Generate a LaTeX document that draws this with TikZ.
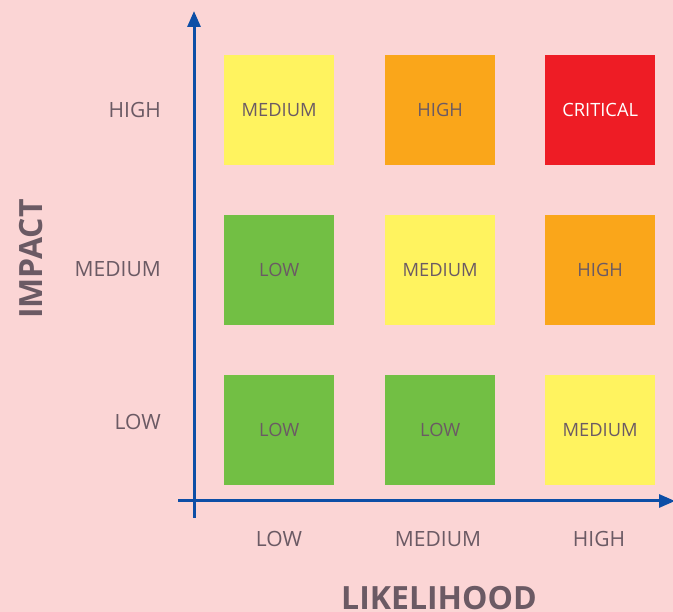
\documentclass[tikz,border=0pt]{standalone}
\usepackage{fontspec}
\setmainfont{Open Sans}
\usetikzlibrary{arrows.meta}
\definecolor{bg}{HTML}{FBD5D5}
\definecolor{txt}{HTML}{6B5A64}
\definecolor{axis}{HTML}{0D4EA6}
\definecolor{cyel}{HTML}{FFF35F}
\definecolor{cora}{HTML}{FAA61A}
\definecolor{cred}{HTML}{EE1C25}
\definecolor{cgrn}{HTML}{72BF44}
\begin{document}
\begin{tikzpicture}[x=1pt,y=-1pt,
  cell/.style={minimum width=110pt,minimum height=110pt,inner sep=0pt,anchor=north west,text=txt,font=\fontsize{18.3}{20}\selectfont},
  lab/.style={text=txt,font=\fontsize{21}{22}\selectfont,inner sep=0pt},
  ttl/.style={text=txt,font=\fontsize{32}{34}\selectfont\bfseries,inner sep=0pt},
  ax/.style={draw=axis,line width=3pt,-{Triangle[length=16pt,width=13pt]}}]
\fill[bg] (0,0) rectangle (673,612);
\useasboundingbox (0,0) rectangle (673,612);
% cells
\node[cell,fill=cyel] (c13) at (224,55) {MEDIUM};
\node[cell,fill=cora] (c23) at (385,55) {HIGH};
\node[cell,fill=cred,text=white] (c33) at (545,55) {CRITICAL};
\node[cell,fill=cgrn] (c12) at (224,215) {LOW};
\node[cell,fill=cyel] (c22) at (385,215) {MEDIUM};
\node[cell,fill=cora] (c32) at (545,215) {HIGH};
\node[cell,fill=cgrn] (c11) at (224,375) {LOW};
\node[cell,fill=cgrn] (c21) at (385,375) {LOW};
\node[cell,fill=cyel] (c31) at (545,375) {MEDIUM};
% axes
\coordinate (yb) at (194,518);
\coordinate (yt) at (194,11);
\coordinate (xl) at (178,501);
\coordinate (xr) at (675,501);
\draw[ax] (yb) -- (yt);
\draw[ax] (xl) -- (xr);
% labels
\node[lab,anchor=east] (rh) at (161,110) {HIGH};
\node[lab,anchor=east] (rm) at (161,269) {MEDIUM};
\node[lab,anchor=east] (rl) at (161,422) {LOW};
\node[lab] (cl) at (279,539) {LOW};
\node[lab] (cm) at (438,539) {MEDIUM};
\node[lab] (ch) at (599,539) {HIGH};
\node[ttl,rotate=90] (imp) at (31,259) {IMPACT};
\node[ttl] (lik) at (439,598) {LIKELIHOOD};
\end{tikzpicture}
\end{document}
